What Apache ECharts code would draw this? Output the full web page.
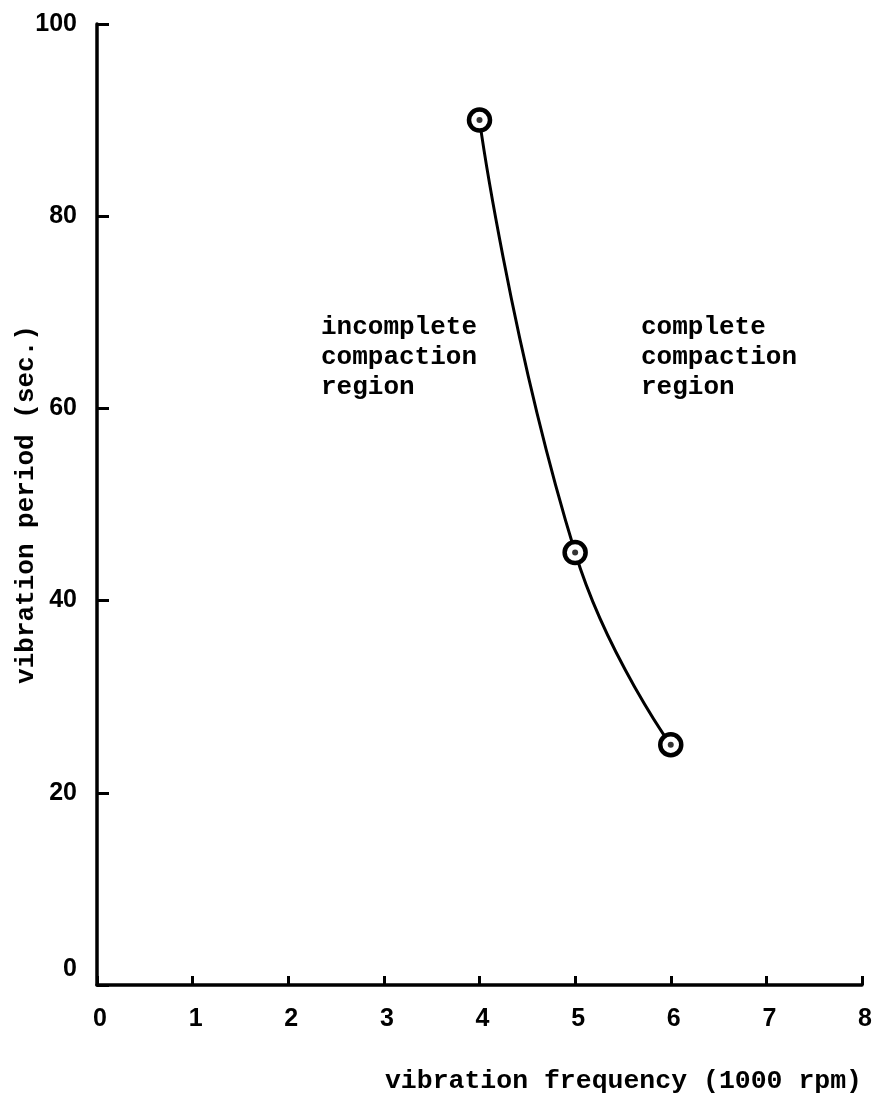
<!DOCTYPE html>
<html>
<head>
<meta charset="utf-8">
<script src="https://cdn.jsdelivr.net/npm/echarts@6/dist/echarts.min.js"></script>
<style>
  html, body { margin: 0; padding: 0; background: #fff; }
  #chart { width: 876px; height: 1101px; }
</style>
</head>
<body>
<div id="chart"></div>
<script>
// Vibration frequency (1000 rpm) vs. vibration period needed for complete compaction
const frequency = [4, 5, 6];
const period = [90, 45, 25];
const xTicks = [0, 1, 2, 3, 4, 5, 6, 7, 8];
const yTicks = [0, 20, 40, 60, 80, 100];

const points = frequency.map((f, i) => [f, period[i]]);
const mono = '"Liberation Mono", "DejaVu Sans Mono", monospace';
const sans = '"Liberation Sans", Arial, sans-serif';

const chart = echarts.init(document.getElementById('chart'), null, { renderer: 'canvas' });
chart.setOption({
  animation: false,
  backgroundColor: '#ffffff',
  grid: { left: 97, right: 14, top: 24, bottom: 116, containLabel: false, outerBoundsMode: 'none' },
  xAxis: {
    type: 'value',
    min: xTicks[0],
    max: xTicks[xTicks.length - 1],
    interval: 1,
    axisLine: { show: true, lineStyle: { color: '#000', width: 3.5 } },
    axisTick: { show: true, inside: true, length: 9, lineStyle: { color: '#000', width: 3 } },
    splitLine: { show: false },
    axisLabel: {
      color: '#000', fontFamily: sans, fontSize: 25, fontWeight: 'bold', margin: 22,
      padding: [0, 0, 0, 6],
      formatter: v => String(v)
    }
  },
  yAxis: {
    type: 'value',
    min: yTicks[0],
    max: yTicks[yTicks.length - 1],
    interval: 20,
    axisLine: { show: true, lineStyle: { color: '#000', width: 3.5 } },
    axisTick: { show: true, inside: true, length: 12, lineStyle: { color: '#000', width: 3 } },
    splitLine: { show: false },
    axisLabel: {
      color: '#000', fontFamily: sans, fontSize: 25, fontWeight: 'bold', margin: 20,
      formatter: v => (v === 0 ? '{z|0}' : String(v)),
      rich: { z: { fontFamily: sans, fontSize: 25, fontWeight: 'bold', color: '#000', padding: [0, 0, 32, 0] } }
    },
    name: 'vibration period (sec.)',
    nameLocation: 'middle',
    nameGap: 58,
    nameRotate: 90,
    nameMoveOverlap: false,
    nameTextStyle: {
      color: '#000', fontFamily: mono, fontSize: 26, fontWeight: 'bold'
    }
  },
  series: [
    {
      type: 'line',
      data: points,
      smooth: 0.5,
      symbol: 'circle',
      symbolSize: 21,
      lineStyle: { color: '#000', width: 3 },
      itemStyle: { color: '#fff', borderColor: '#000', borderWidth: 4.5 },
      z: 3
    },
    {
      type: 'scatter',
      data: points,
      symbol: 'circle',
      symbolSize: 6,
      itemStyle: { color: '#000' },
      z: 5
    }
  ],
  graphic: [
    {
      type: 'text', right: 14, top: 1068,
      style: {
        text: 'vibration frequency (1000 rpm)',
        fontFamily: mono, fontSize: 26.5, fontWeight: 'bold', fill: '#000'
      }
    },
    {
      type: 'text', left: 321, top: 312,
      style: {
        text: 'incomplete\ncompaction\nregion',
        fontFamily: mono, fontSize: 26, fontWeight: 'bold', lineHeight: 30, fill: '#000'
      }
    },
    {
      type: 'text', left: 641, top: 312,
      style: {
        text: 'complete\ncompaction\nregion',
        fontFamily: mono, fontSize: 26, fontWeight: 'bold', lineHeight: 30, fill: '#000'
      }
    }
  ]
});
</script>
</body>
</html>
